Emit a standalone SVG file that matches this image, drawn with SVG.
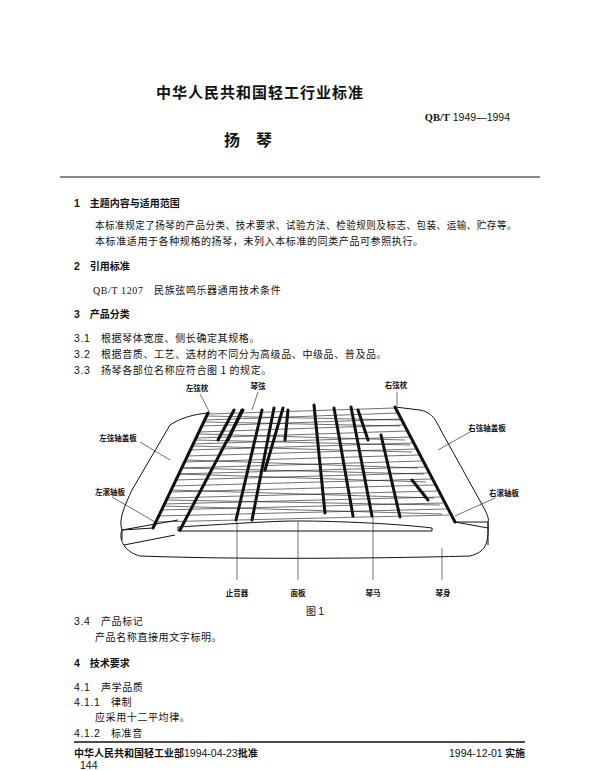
<svg xmlns="http://www.w3.org/2000/svg" width="600" height="771" viewBox="0 0 600 771">
<style>
text{font-family:"Noto Sans CJK SC","Liberation Serif",serif;fill:#111}
.b{font-weight:bold}
.t{font-size:10px;letter-spacing:0.6px}
.h{font-size:10px;font-weight:bold}
.n{font-family:"Liberation Sans","Noto Sans CJK SC",sans-serif;font-size:10.5px}
.l{font-size:7.5px;font-weight:bold}
.o{fill:none;stroke:#111;stroke-width:1}
.s{stroke:#111;stroke-width:0.6}
.br{stroke:#111;stroke-width:3;stroke-linecap:round}
</style>
<rect width="600" height="771" fill="#fff"/>
<text x="260" y="98" class="b" font-size="15" text-anchor="middle" letter-spacing="1">中华人民共和国轻工行业标准</text>
<text x="510" y="121" class="n" text-anchor="end"><tspan font-weight="bold" font-family="Liberation Serif">QB/T</tspan> 1949—1994</text>
<text x="248" y="146" class="b" font-size="16" text-anchor="middle">扬　琴</text>
<line x1="60" y1="177" x2="540" y2="177" stroke="#111" stroke-width="1"/>
<text x="74" y="207" class="h"><tspan class="n">1</tspan>　主题内容与适用范围</text>
<text x="95" y="229" class="t" textLength="422" lengthAdjust="spacingAndGlyphs">本标准规定了扬琴的产品分类、技术要求、试验方法、检验规则及标志、包装、运输、贮存等。</text>
<text x="95" y="245" class="t">本标准适用于各种规格的扬琴，未列入本标准的同类产品可参照执行。</text>
<text x="74" y="270" class="h"><tspan class="n">2</tspan>　引用标准</text>
<text x="93" y="294" class="t"><tspan font-family="Liberation Serif">QB/T 1207</tspan>　民族弦鸣乐器通用技术条件</text>
<text x="74" y="318" class="h"><tspan class="n">3</tspan>　产品分类</text>
<text x="74" y="342" class="t"><tspan class="n">3.1</tspan>　根据琴体宽度、侧长确定其规格。</text>
<text x="74" y="358" class="t"><tspan class="n">3.2</tspan>　根据音质、工艺、选材的不同分为高级品、中级品、普及品。</text>
<text x="74" y="374" class="t"><tspan class="n">3.3</tspan>　扬琴各部位名称应符合图 1 的规定。</text>

<g id="body">
<path class="o" d="M122,530 C118,540 125,552 140,556 C250,560 400,558 470,556 C485,552 489,545 488,522"/>
<path class="o" d="M122,530 L178,520 M122,530 L122,540 M124,545 L175,535 M455,522 L488,528 M488,522 L488,545"/>
</g>
<g id="left-board">
<path class="o" d="M153,528 L122,530 C118,520 125,505 132,490 L170,425 C180,418 195,414 208,413"/>
</g>
<g id="right-board">
<path class="o" d="M395,407 L420,410 C430,412 435,418 438,425 L485,510 C488,516 489,520 488,522 L455,522"/>
</g>
<g id="soundboard">
<path class="o" d="M178,531 L178,527 C230,524 270,521 298,521 C340,521 400,524 432,528 L432,531 Z"/>
</g>
<g id="strings">
<line class="br" x1="208" y1="413" x2="153" y2="528" stroke-width="4"/>
<line class="br" x1="395" y1="407" x2="455" y2="522" stroke-width="4"/>
<path class="s" d="M208,414 L395,408 M205,420 L398,413 M202,426 L401,419 M199,432 L404,425 M196,438 L407,431 M193,444 L410,437 M190,450 L413,443 M187,456 L416,449 M184,462 L419,455 M181,468 L422,461 M178,474 L425,467 M175,480 L428,473 M172,486 L431,479 M169,492 L434,485 M166,498 L437,491 M163,504 L440,497 M160,510 L443,503 M157,516 L446,509 M154,522 L449,515 M205,422 L400,426 M200,434 L405,440 M193,446 L412,452 M186,460 L418,468 M178,474 L426,482 M170,490 L434,498 M162,506 L442,514 M207,416 L402,420 M196,440 L410,445 M182,468 L424,474 M166,500 L440,505"/>
<line class="br" x1="234" y1="410" x2="218" y2="440" stroke-width="2"/>
<line class="br" x1="242" y1="410" x2="228" y2="440" stroke-width="2"/>
<line class="br" x1="243" y1="410" x2="180" y2="530" stroke-width="1.5"/>
<line class="br" x1="262" y1="410" x2="236" y2="520"/>
<line class="br" x1="274" y1="408" x2="252" y2="520"/>
<line class="br" x1="283" y1="408" x2="265" y2="470"/>
<line class="br" x1="288" y1="410" x2="285" y2="440"/>
<line class="br" x1="314" y1="405" x2="325" y2="513"/>
<line class="br" x1="334" y1="408" x2="353" y2="516"/>
<line class="br" x1="351" y1="407" x2="372" y2="516"/>
<line class="br" x1="358" y1="410" x2="368" y2="440"/>
<line class="br" x1="381" y1="435" x2="400" y2="517"/>
<line class="br" x1="412" y1="480" x2="428" y2="500"/>
</g>
<g id="connectors">
<path class="s" d="M200,394 L210,413 M258,392 L252,410 M397,392 L397,406 M140,442 L170,460 M112,497 L155,522 M470,432 L438,450 M495,498 L455,516 M237,522 L237,580 M298,522 L298,580 M373,517 L373,580 M442,548 L442,580"/>
</g>
<g id="labels">
<text x="197" y="391" class="l" text-anchor="middle">左弦枕</text>
<text x="258" y="389" class="l" text-anchor="middle">琴弦</text>
<text x="396" y="388" class="l" text-anchor="middle">右弦枕</text>
<text x="118" y="441" class="l" text-anchor="middle">左弦轴盖板</text>
<text x="487" y="431" class="l" text-anchor="middle">右弦轴盖板</text>
<text x="110" y="495" class="l" text-anchor="middle">左滚轴板</text>
<text x="504" y="496" class="l" text-anchor="middle">右滚轴板</text>
<text x="237" y="596" class="l" text-anchor="middle">止音器</text>
<text x="298" y="596" class="l" text-anchor="middle">面板</text>
<text x="373" y="596" class="l" text-anchor="middle">琴马</text>
<text x="443" y="596" class="l" text-anchor="middle">琴身</text>
<text x="315" y="615" font-size="10" text-anchor="middle">图 <tspan class="n">1</tspan></text>
</g>

<text x="74" y="625" class="t"><tspan class="n">3.4</tspan>　产品标记</text>
<text x="95" y="641" class="t">产品名称直接用文字标明。</text>
<text x="74" y="667" class="h"><tspan class="n">4</tspan>　技术要求</text>
<text x="74" y="691" class="t"><tspan class="n">4.1</tspan>　声学品质</text>
<text x="74" y="706" class="t"><tspan class="n">4.1.1</tspan>　律制</text>
<text x="95" y="721" class="t">应采用十二平均律。</text>
<text x="74" y="737" class="t"><tspan class="n">4.1.2</tspan>　标准音</text>
<line x1="74" y1="742" x2="525" y2="742" stroke="#111" stroke-width="1.5"/>
<text x="74" y="757" class="h">中华人民共和国轻工业部<tspan class="n" font-weight="normal">1994-04-23</tspan>批准</text>
<text x="525" y="757" class="h" text-anchor="end"><tspan class="n" font-weight="normal">1994-12-01</tspan> 实施</text>
<text x="80" y="769" class="n" font-size="7">144</text>
</svg>
